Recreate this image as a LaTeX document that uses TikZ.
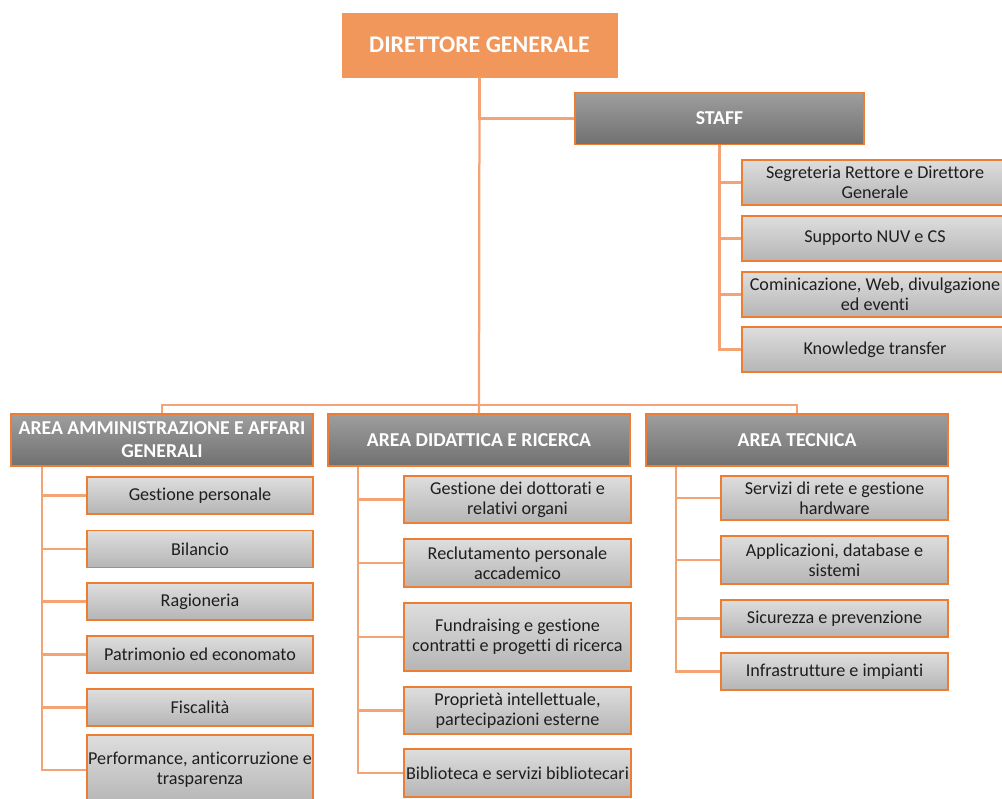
\documentclass[tikz,border=0pt]{standalone}
\usepackage{fontspec}
\setmainfont{Carlito}[Ligatures=NoCommon]

\definecolor{arancio}{RGB}{237,125,49}
\definecolor{arancioDG}{RGB}{241,151,91}
\definecolor{linea}{RGB}{244,164,116}
\definecolor{testo}{RGB}{30,30,30}

\newcommand{\unitfont}{\fontsize{12.9}{14.4}\selectfont}
\newcommand{\areafont}{\fontsize{14}{16.3}\selectfont\bfseries}

\tikzset{
  dgbox/.style={fill=arancioDG,draw=arancioDG,text=white,font=\fontsize{17}{19}\selectfont\bfseries,
     minimum width=6.875cm,minimum height=1.6cm,inner sep=0pt},
  headbox/.style={draw=arancio,line width=1pt,top color=black!38,bottom color=black!56,
     text=white,font=\areafont,align=center,minimum height=1.3cm,inner sep=0pt},
  unitbox/.style={draw=arancio,line width=1pt,top color=black!13,bottom color=black!29,
     text=testo,font=\unitfont,align=center,inner sep=0pt},
  conn/.style={draw=linea,line width=1.6pt}
}

\begin{document}
\begin{tikzpicture}[x=0.025cm,y=-0.025cm]

  \useasboundingbox (0,0) rectangle (1002,798);
  \clip (0,0) rectangle (1002,798);

  % vertice e staff
	\node[dgbox] (dg) at (479.5,45) {DIRETTORE GENERALE};
	\node[headbox,minimum width=7.225cm] (staff) at (719.5,118.5) {STAFF};

   \node[unitbox,minimum width=6.65cm,minimum height=1.125cm] (s1) at (875,182.5) {Segreteria Rettore e Direttore\\Generale};
   \node[unitbox,minimum width=6.65cm,minimum height=1.125cm] (s2) at (875,238.5) {Supporto NUV e CS};
   \node[unitbox,minimum width=6.65cm,minimum height=1.125cm] (s3) at (875,294.5) {Cominicazione, Web, divulgazione\\ed eventi};
   \node[unitbox,minimum width=6.65cm,minimum height=1.125cm] (s4) at (875,349.5) {Knowledge transfer};

  % aree
	\node[headbox,minimum width=7.55cm] (amm) at (162,440) {AREA AMMINISTRAZIONE E AFFARI\\GENERALI};
	\node[headbox,minimum width=7.55cm] (did) at (479,440) {AREA DIDATTICA E RICERCA};
	\node[headbox,minimum width=7.55cm] (tec) at (797,440) {AREA TECNICA};

  % area amministrazione
   \node[unitbox,minimum width=5.65cm,minimum height=0.925cm] (a1) at (200,495.5) {Gestione personale};
   \node[unitbox,minimum width=5.65cm,minimum height=0.925cm] (a2) at (200,549) {Bilancio};
   \node[unitbox,minimum width=5.65cm,minimum height=0.925cm] (a3) at (200,601.5) {Ragioneria};
   \node[unitbox,minimum width=5.65cm,minimum height=0.925cm] (a4) at (200,654.5) {Patrimonio ed economato};
   \node[unitbox,minimum width=5.65cm,minimum height=0.925cm] (a5) at (200,707.5) {Fiscalità};
   \node[unitbox,minimum width=5.65cm,minimum height=1.75cm] (a6) at (200,770) {Performance, anticorruzione e\\trasparenza};

  % area didattica
   \node[unitbox,minimum width=5.675cm,minimum height=1.175cm] (d1) at (517.5,499.5) {Gestione dei dottorati e\\relativi organi};
   \node[unitbox,minimum width=5.675cm,minimum height=1.2cm] (d2) at (517.5,563) {Reclutamento personale\\accademico};
   \node[unitbox,minimum width=5.675cm,minimum height=1.7cm] (d3) at (517.5,637) {Fundraising e gestione\\contratti e progetti di ricerca};
   \node[unitbox,minimum width=5.675cm,minimum height=1.175cm] (d4) at (517.5,710.5) {Proprietà intellettuale,\\partecipazioni esterne};
   \node[unitbox,minimum width=5.675cm,minimum height=1.2cm] (d5) at (517.5,773) {Biblioteca e servizi bibliotecari};

  % area tecnica
   \node[unitbox,minimum width=5.675cm,minimum height=1.1cm] (t1) at (834.5,498) {Servizi di rete e gestione\\hardware};
   \node[unitbox,minimum width=5.675cm,minimum height=1.2cm] (t2) at (834.5,560) {Applicazioni, database e\\sistemi};
   \node[unitbox,minimum width=5.675cm,minimum height=0.925cm] (t3) at (834.5,618.5) {Sicurezza e prevenzione};
   \node[unitbox,minimum width=5.675cm,minimum height=0.925cm] (t4) at (834.5,671.5) {Infrastrutture e impianti};

  % collegamenti
	\draw[conn] (dg.south) |- (staff.west);
	\draw[conn] (dg.south) -- (did.north);
	\draw[conn] (amm.north) -- ++(0,-8) -| (tec.north);

   \coordinate (ramoA) at ([xshift=0.8cm]amm.south west);
   \coordinate (ramoD) at ([xshift=0.775cm]did.south west);
   \coordinate (ramoT) at ([xshift=0.775cm]tec.south west);

	\foreach \n in {s1,s2,s3,s4} \draw[conn] (staff.south) |- (\n.west);
	\foreach \n in {a1,a2,a3,a4,a5,a6} \draw[conn] (ramoA) |- (\n.west);
	\foreach \n in {d1,d2,d3,d4,d5} \draw[conn] (ramoD) |- (\n.west);
	\foreach \n in {t1,t2,t3,t4} \draw[conn] (ramoT) |- (\n.west);

\end{tikzpicture}
\end{document}
